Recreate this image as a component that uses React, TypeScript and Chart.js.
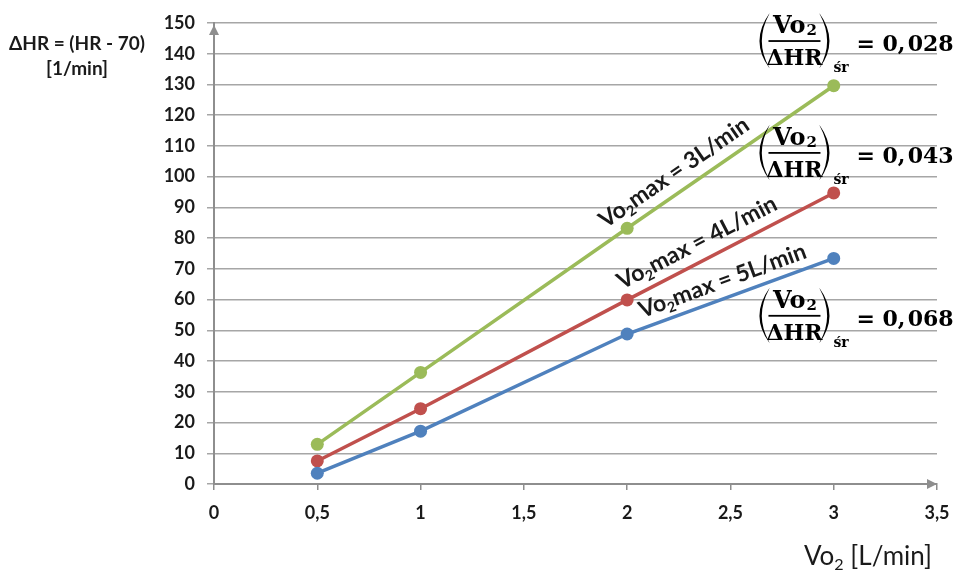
import React, { useEffect, useRef } from 'react';
import { Chart, registerables } from 'chart.js';

Chart.register(...registerables);

// ---------- data ----------
const xValues = [0.5, 1, 2, 3];
const greenValues = [12.9, 36.3, 83.2, 129.6];
const redValues = [7.5, 24.5, 59.9, 94.7];
const blueValues = [3.5, 17.2, 48.8, 73.4];
const vo2maxValues = ['3', '4', '5'];
const ratioValues = ['0,\u200A028', '0,\u200A043', '0,\u200A068'];
const xMin = 0;
const xMax = 3.5;
const xStep = 0.5;
const yMin = 0;
const yMax = 150;
const yStep = 10;
const yTitleLines = ['ΔHR = (HR - 70)', '[1/min]'];
const xTitleMain = 'Vo';
const xTitleSub = '2';
const xTitleRest = ' [L/min]';

// ---------- styles / placement ----------
const COLORS = ['#9BBB59', '#C0504D', '#4F81BD'];
const SANS = 'Lato, "Open Sans", sans-serif';
const SERIF = '"DejaVu Serif", serif';
const TEXT = '#1a1a1a';
const labelAnchorX = [2.28, 2.38, 2.49];
const labelGap = [20, 19.5, 18];
const formulaX = 2.81;
const formulaY = [144.1, 107.7, 54.7];

type Part = [string, boolean];

function drawRich(ctx: CanvasRenderingContext2D, parts: Part[], x: number, y: number, size: number, weight: string, family: string, measureOnly = false): number {
  let cx = x;
  for (const [t, sub] of parts) {
    const fs = sub ? size * 0.62 : size;
    ctx.font = `${weight} ${fs}px ${family}`;
    const w = ctx.measureText(t).width;
    if (!measureOnly) ctx.fillText(t, cx, sub ? y + size * 0.2 : y);
    cx += w;
  }
  return cx - x;
}

function paren(ctx: CanvasRenderingContext2D, cx: number, by: number, dir: number) {
  const inner = cx + dir * 25;
  ctx.beginPath();
  ctx.moveTo(inner, by - 28);
  ctx.quadraticCurveTo(cx + dir * 45, by, inner, by + 27);
  ctx.lineTo(inner + dir * 0.3, by + 26);
  ctx.quadraticCurveTo(cx + dir * 40, by, inner + dir * 0.3, by - 27);
  ctx.closePath();
  ctx.fill();
}

function drawFormula(ctx: CanvasRenderingContext2D, cx: number, by: number, value: string) {
  ctx.save();
  ctx.fillStyle = '#000';
  ctx.textBaseline = 'alphabetic';
  ctx.textAlign = 'left';
  ctx.font = `bold 24px ${SERIF}`;
  const wVo = ctx.measureText('Vo').width;
  ctx.font = `bold 15px ${SERIF}`;
  const w2 = ctx.measureText('2').width;
  const nx = cx - (wVo + w2) / 2;
  ctx.font = `bold 24px ${SERIF}`;
  ctx.fillText('Vo', nx, by - 8);
  ctx.font = `bold 15px ${SERIF}`;
  ctx.fillText('2', nx + wVo + 1, by - 6);
  ctx.fillRect(cx - 26, by - 1, 52, 1.8);
  ctx.textAlign = 'center';
  ctx.font = `bold 22px ${SERIF}`;
  ctx.fillText('ΔHR', cx, by + 24);
  paren(ctx, cx, by, -1);
  paren(ctx, cx, by, 1);
  ctx.textAlign = 'left';
  ctx.font = `bold 14px ${SERIF}`;
  ctx.fillText('śr', cx + 39, by + 31);
  ctx.font = `bold 22px ${SERIF}`;
  ctx.fillText('= ' + value, cx + 62, by + 10);
  ctx.restore();
}

const decorPlugin = {
  id: 'decor',
  afterDraw(chart: any) {
    const ctx: CanvasRenderingContext2D = chart.ctx;
    const xs = chart.scales.x;
    const ys = chart.scales.y;
    const area = chart.chartArea;
    ctx.save();
    ctx.fillStyle = '#8e8e8e';
    ctx.beginPath();
    ctx.moveTo(area.left, area.top + 2);
    ctx.lineTo(area.left - 5, area.top + 12);
    ctx.lineTo(area.left + 5, area.top + 12);
    ctx.closePath();
    ctx.fill();
    ctx.beginPath();
    ctx.moveTo(area.right, area.bottom);
    ctx.lineTo(area.right - 10, area.bottom - 5);
    ctx.lineTo(area.right - 10, area.bottom + 5);
    ctx.closePath();
    ctx.fill();

    ctx.fillStyle = TEXT;
    ctx.textAlign = 'center';
    ctx.textBaseline = 'alphabetic';
    ctx.font = `bold 19px ${SANS}`;
    ctx.fillText(yTitleLines[0], 77, 50);
    ctx.fillText(yTitleLines[1], 77, 75);

    ctx.textAlign = 'left';
    const xParts: Part[] = [[xTitleMain, false], [xTitleSub, true], [xTitleRest, false]];
    const xw = drawRich(ctx, xParts, 0, 0, 26, 'normal', SANS, true);
    drawRich(ctx, xParts, 932 - xw, 565, 26, 'normal', SANS);

    const seriesList = [greenValues, redValues, blueValues];
    seriesList.forEach((vals, i) => {
      const ax = labelAnchorX[i];
      let k = 0;
      while (k < xValues.length - 2 && xValues[k + 1] < ax) k++;
      const x0 = xs.getPixelForValue(xValues[k]);
      const x1 = xs.getPixelForValue(xValues[k + 1]);
      const y0 = ys.getPixelForValue(vals[k]);
      const y1 = ys.getPixelForValue(vals[k + 1]);
      const px = xs.getPixelForValue(ax);
      const t = (px - x0) / (x1 - x0);
      const py = y0 + (y1 - y0) * t;
      const ang = Math.atan2(y1 - y0, x1 - x0);
      const parts: Part[] = [['Vo', false], ['2', true], [`max = ${vo2maxValues[i]}L/min`, false]];
      ctx.save();
      ctx.translate(px, py);
      ctx.rotate(ang);
      ctx.fillStyle = TEXT;
      ctx.textAlign = 'left';
      const size = 23;
      const w = drawRich(ctx, parts, 0, 0, size, 'bold', SANS, true);
      drawRich(ctx, parts, -w / 2, -labelGap[i] + size * 0.36, size, 'bold', SANS);
      ctx.restore();
    });

    ratioValues.forEach((v, i) => {
      drawFormula(ctx, xs.getPixelForValue(formulaX), ys.getPixelForValue(formulaY[i]), v);
    });
    ctx.restore();
  },
};

export default function App() {
  const canvasRef = useRef<HTMLCanvasElement | null>(null);
  useEffect(() => {
    if (!canvasRef.current) return;
    const mk = (vals: number[]) => xValues.map((x, i) => ({ x, y: vals[i] }));
    const ds = (vals: number[], c: string) => ({
      data: mk(vals),
      borderColor: c,
      backgroundColor: c,
      pointBackgroundColor: c,
      pointBorderColor: c,
      borderWidth: 3.5,
      pointRadius: 6.5,
      pointBorderWidth: 0,
      tension: 0,
    });
    const chart = new Chart(canvasRef.current, {
      type: 'line',
      data: {
        datasets: [ds(blueValues, COLORS[2]), ds(redValues, COLORS[1]), ds(greenValues, COLORS[0])],
      },
      options: {
        animation: false,
        responsive: false,
        layout: { padding: { left: 0, right: 17, top: 23, bottom: 0 } },
        plugins: { legend: { display: false }, tooltip: { enabled: false }, title: { display: false } },
        scales: {
          x: {
            type: 'linear',
            min: xMin,
            max: xMax,
            afterFit: (s: any) => { s.height = 88; s.paddingLeft = 0; s.paddingRight = 0; },
            ticks: {
              stepSize: xStep,
              padding: 12,
              color: TEXT,
              font: { family: SANS, size: 18, weight: 'bold' },
              callback: (v: any) => String(v).replace('.', ','),
              maxRotation: 0,
            },
            grid: { display: true, drawOnChartArea: false, drawTicks: true, tickLength: 6, color: '#8e8e8e', lineWidth: 1.5 },
            border: { display: true, color: '#8e8e8e', width: 2 },
          },
          y: {
            type: 'linear',
            min: yMin,
            max: yMax,
            afterFit: (s: any) => { s.width = 214; s.paddingTop = 0; s.paddingBottom = 0; },
            ticks: {
              stepSize: yStep,
              padding: 12,
              color: TEXT,
              font: { family: SANS, size: 18, weight: 'bold' },
            },
            grid: { color: '#a6a6a6', lineWidth: 1.5, tickLength: 7, drawTicks: true },
            border: { display: true, color: '#8e8e8e', width: 2 },
          },
        },
      },
      plugins: [decorPlugin],
    } as any);
    return () => chart.destroy();
  }, []);
  return (
    <div style={{ position: 'absolute', left: 0, top: 0, width: 954, height: 572, background: '#fff' }}>
      <canvas ref={canvasRef} width={954} height={572} />
    </div>
  );
}
